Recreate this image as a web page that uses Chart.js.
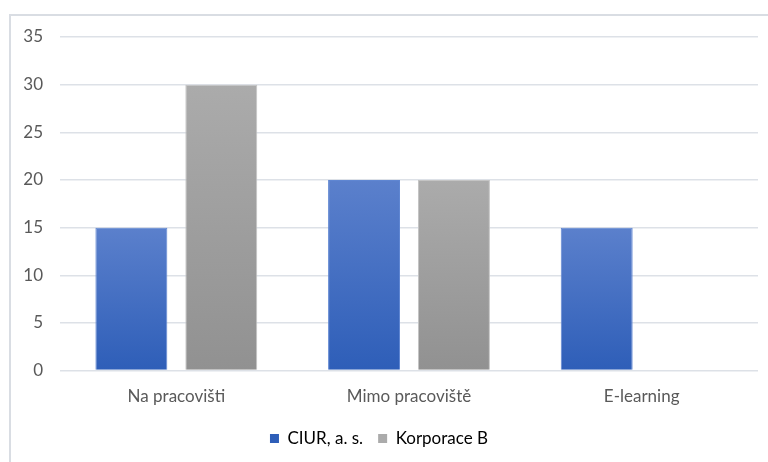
<!DOCTYPE html>
<html>
<head>
<meta charset="utf-8">
<script src="https://cdn.jsdelivr.net/npm/chart.js@4"></script>
<style>
  html, body { margin: 0; padding: 0; background: #fff; }
  #wrap { position: relative; width: 768px; height: 462px; overflow: hidden; }
  #frame { position: absolute; left: 9px; top: 14px; width: 800px; height: 500px; border: 1px solid #d9dde3; border-width: 2px 0 0 2px; box-sizing: border-box; }
  #chart { position: absolute; left: 0; top: 0; }
</style>
</head>
<body>
<div id="wrap">
  <div id="frame"></div>
  <canvas id="chart" width="768" height="462"></canvas>
</div>
<script>
Chart.defaults.color = '#595959';
Chart.defaults.font.family = 'Lato, "Open Sans", sans-serif';
Chart.defaults.font.size = 17;

const categories = ['Na pracovišti', 'Mimo pracoviště', 'E-learning'];
const ciurData = [15, 20, 15];
const korporaceData = [30, 20, 0];

const blueTop = '#5b80cc';
const blueBottom = '#2e5eb8';
const grayTop = '#ababab';
const grayBottom = '#919191';

// vertical gradient over each bar, from its top down to the zero line
function barGradient(top, bottom) {
  return (context) => {
    const chart = context.chart;
    const y = chart.scales && chart.scales.y;
    if (!chart.chartArea || !y || context.raw === undefined) return bottom;
    const y0 = y.getPixelForValue(0);
    const y1 = y.getPixelForValue(context.raw);
    if (y0 === y1) return bottom;
    const g = chart.ctx.createLinearGradient(0, y1, 0, y0);
    g.addColorStop(0, top);
    g.addColorStop(1, bottom);
    return g;
  };
}

new Chart(document.getElementById('chart'), {
  type: 'bar',
  data: {
    labels: categories,
    datasets: [{
      label: 'CIUR, a. s.',
      data: ciurData,
      backgroundColor: barGradient(blueTop, blueBottom),
      borderColor: '#5f86d2',
      borderWidth: 1,
      barPercentage: 0.8,
      categoryPercentage: 0.773,
    }, {
      label: 'Korporace B',
      data: korporaceData,
      backgroundColor: barGradient(grayTop, grayBottom),
      borderColor: '#c4c4c4',
      borderWidth: 1,
      barPercentage: 0.8,
      categoryPercentage: 0.773,
    }]
  },
  options: {
    responsive: false,
    animation: false,
    layout: {
      padding: { left: 0, right: 10, top: 37, bottom: 5 }
    },
    plugins: {
      legend: {
        position: 'bottom',
        labels: {
          boxWidth: 9,
          boxHeight: 9,
          padding: 15,
          generateLabels: (chart) => [
            { text: 'CIUR, a. s.', fillStyle: blueBottom, strokeStyle: blueBottom, lineWidth: 0, datasetIndex: 0 },
            { text: 'Korporace B', fillStyle: grayTop, strokeStyle: grayTop, lineWidth: 0, datasetIndex: 1 },
          ]
        }
      },
      tooltip: { enabled: false }
    },
    scales: {
      x: {
        grid: { display: false },
        border: { display: false },
        ticks: { padding: 8 }
      },
      y: {
        min: 0,
        max: 35,
        afterFit: (scale) => { scale.width = 60; },
        grid: { color: '#dde1e7', lineWidth: 1.5, drawTicks: false },
        border: { display: false },
        ticks: { stepSize: 5, padding: 17 }
      }
    }
  }
});
</script>
</body>
</html>
